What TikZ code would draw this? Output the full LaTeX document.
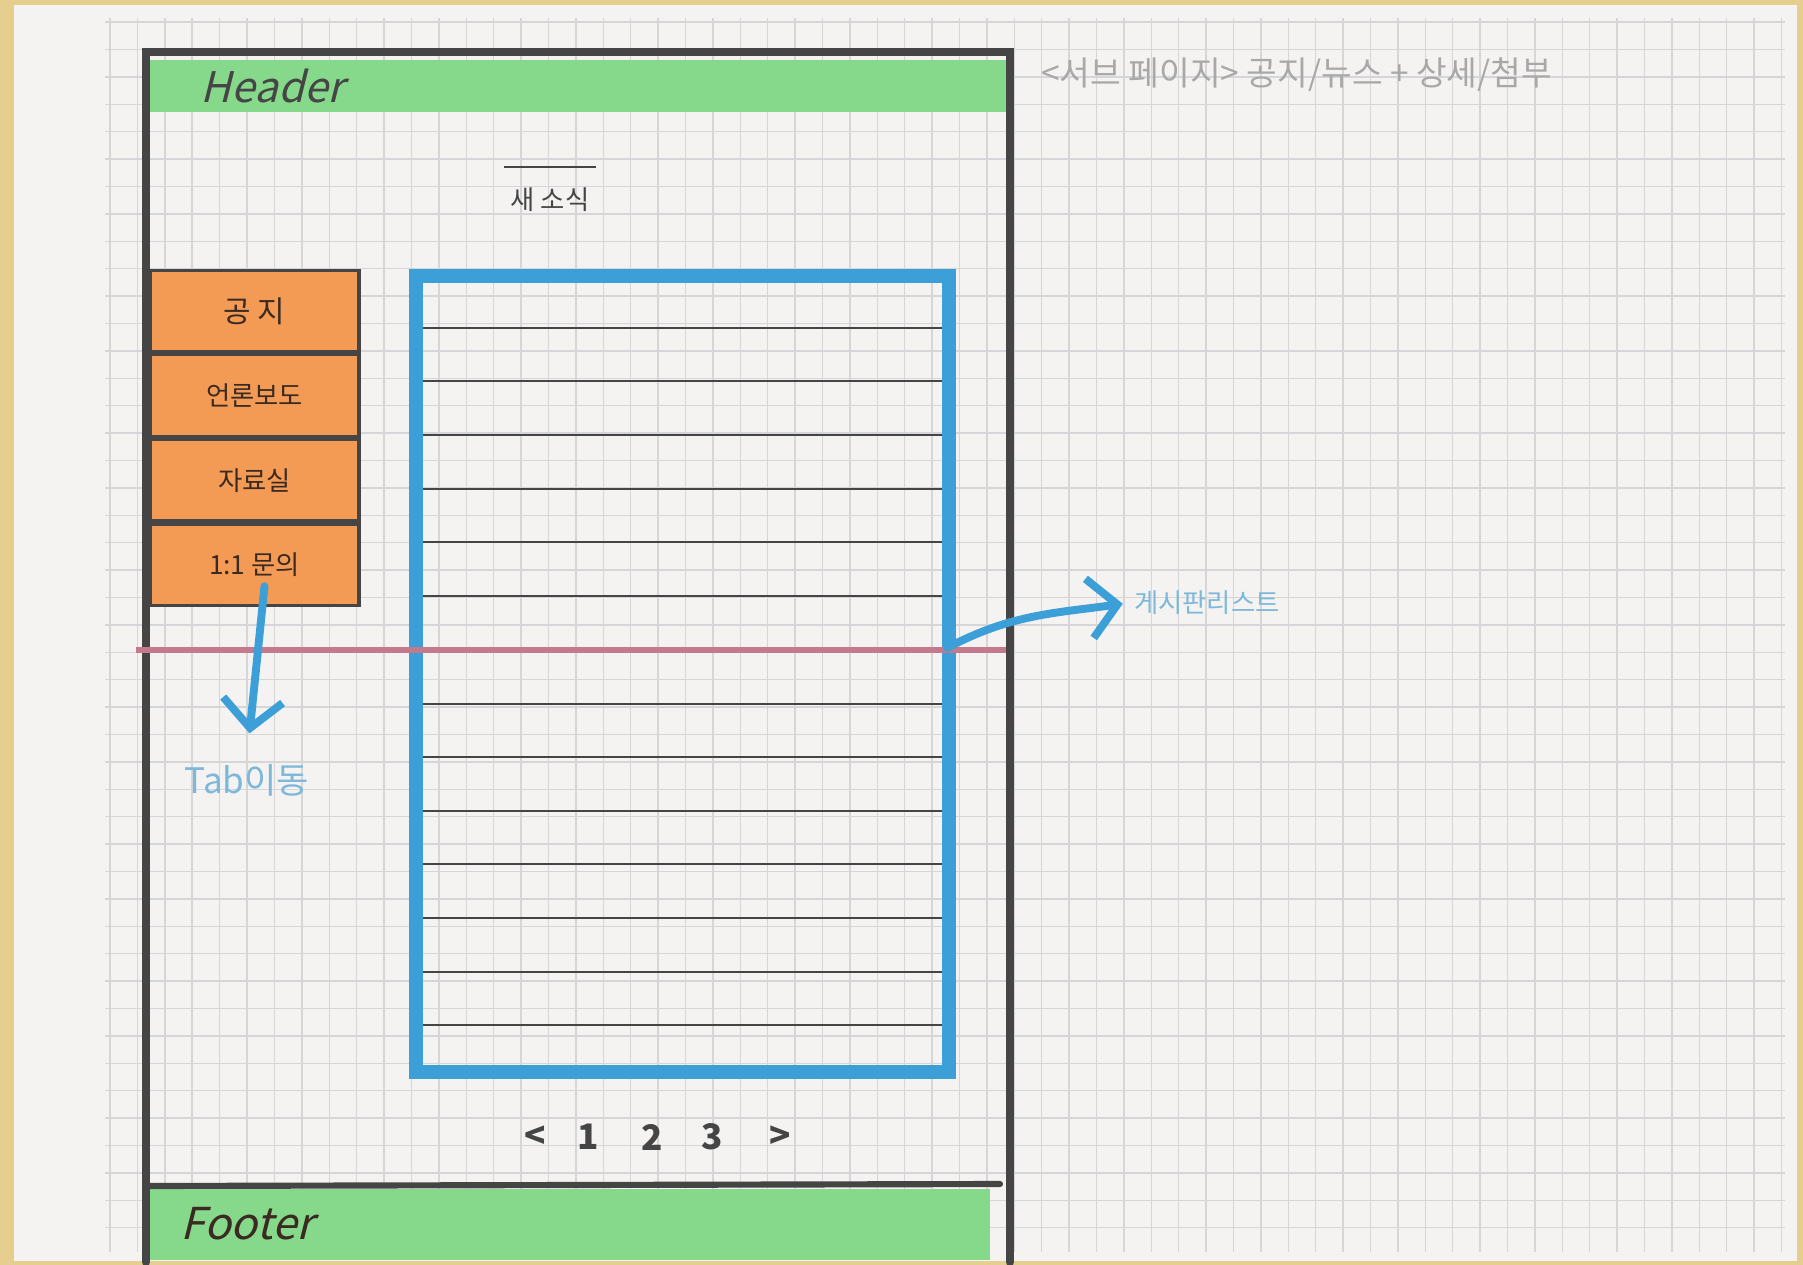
\documentclass[tikz,border=0pt]{standalone}
\usepackage{fontspec}
\setmainfont{Noto Sans CJK KR}
\newfontfamily\handfont[FakeSlant=0.25]{Noto Sans CJK KR}
\usetikzlibrary{arrows.meta, positioning}
\definecolor{paper}{HTML}{F4F3F1}
\definecolor{paperedge}{HTML}{E6CF8E}
\definecolor{gridline}{HTML}{D6D6D9}
\definecolor{framegray}{HTML}{454545}
\definecolor{hdrgreen}{HTML}{86D98A}
\definecolor{menuorange}{HTML}{F39A55}
\definecolor{listblue}{HTML}{3D9FD8}
\definecolor{notepink}{HTML}{C27A8C}
\definecolor{noteblue}{HTML}{7DB8DA}
\definecolor{pencil}{HTML}{A8A8A8}
\definecolor{inkbrown}{HTML}{3A2A22}

\begin{document}
\begin{tikzpicture}[x=0.02cm, y=-0.02cm,
  framepen/.style={draw=framegray, line width=5pt, line cap=round},
  band/.style={fill=hdrgreen, draw=none, inner sep=0pt},
  menubox/.style={fill=menuorange, draw=framegray, line width=1.8pt,
    minimum width=4.18cm, minimum height=1.63cm, inner sep=0pt,
    text=inkbrown, font=\fontsize{15}{18}\selectfont},
  rowline/.style={draw=framegray, line width=1.5pt},
  bluearrow/.style={draw=listblue, line width=4.5pt, line cap=round,
    -{Straight Barb[length=16pt, width=34pt]}},
  pagenum/.style={text=framegray, font=\fontsize{20}{24}\selectfont\bfseries}]
  \useasboundingbox (0,0) rectangle (1803,1265);

  % paper
  \fill[paperedge] (0,0) rectangle (1803,1265);
  \fill[paper] (14,5) rectangle (1797,1261);
  \foreach \gx in {0,...,61}
    \draw[gridline, line width=0.8pt] ({110+27.4*\gx},18) -- ({110+27.4*\gx},1252);
  \foreach \gy in {0,...,44}
    \draw[gridline, line width=0.8pt] (105,{22+27.4*\gy}) -- (1785,{22+27.4*\gy});

  % header and footer bands
  \node[band, minimum width=17.12cm, minimum height=1.04cm] (header) at (578,86) {};
  \node[anchor=west, text=framegray, font=\handfont\fontsize{24}{28}\selectfont]
    (headerlbl) at ([xshift=0.9cm]header.west) {Header};
  \node[band, minimum width=16.82cm, minimum height=1.42cm] (footer) at (570,1224) {};
  \node[anchor=west, text=inkbrown, font=\handfont\fontsize{25}{29}\selectfont]
    (footerlbl) at ([xshift=0.5cm]footer.west) {Footer};

  % page frame
  \draw[framepen] (146,1262) -- (146,52) -- (1010,52) -- (1010,1262);
  \draw[framepen, line width=3.5pt] (146,1186) -- (1000,1184); % footer top

  % page note
  \node[anchor=west, text=pencil, font=\fontsize{19}{22}\selectfont]
    (pagenote) at (1035,75) {<서브 페이지> 공지/뉴스 + 상세/첨부};

  % title
  \node[text=framegray, font=\fontsize{15}{18}\selectfont] (newslbl) at (550,200) {새 소식};
  \draw[framegray, line width=1.5pt] ([yshift=0.3cm]newslbl.north west) -- ([yshift=0.3cm]newslbl.north east);

  % tab menu
  \node[menubox] (notice) at (254.5,311) {\fontsize{17}{20}\selectfont 공 지};
  \node[menubox, below=0pt of notice] (press) {언론보도};
  \node[menubox, below=0pt of press] (archive) {자료실};
  \node[menubox, below=0pt of archive] (qna) {1:1 문의};

  % board list
  \foreach \ly in {328,381,435,489,542,596,704,757,811,864,918,972,1025}
    \draw[rowline] (416,\ly) -- (949,\ly);
  \node[draw=listblue, line width=8pt, minimum width=10.66cm, minimum height=15.92cm,
    inner sep=0pt] (boardlist) at (682.5,674) {};
  \draw[notepink, line width=3pt] (136,650) -- (1006,650); % fold line
  \coordinate (listedge) at (947,648);

  % notes
  \node[text=noteblue, font=\fontsize{20}{24}\selectfont] (tablbl) at (247,780) {Tab이동};
  \draw[bluearrow, shorten >=14pt] ([xshift=0.2cm, yshift=0.42cm]qna.south) -- (tablbl.north);
  \node[anchor=west, text=noteblue, font=\fontsize{15}{18}\selectfont] (boardlbl) at (1128,603) {게시판리스트};
  \draw[bluearrow, shorten >=3pt] (listedge) to[out=28, in=188] (boardlbl.west);

  % pagination
  \node[pagenum] (pgprev) at (535,1137) {<};
  \node[pagenum] (pgone) at (588,1137) {1};
  \node[pagenum] (pgtwo) at (652,1137) {2};
  \node[pagenum] (pgthree) at (712,1137) {3};
  \node[pagenum] (pgnext) at (780,1137) {>};
\end{tikzpicture}
\end{document}
